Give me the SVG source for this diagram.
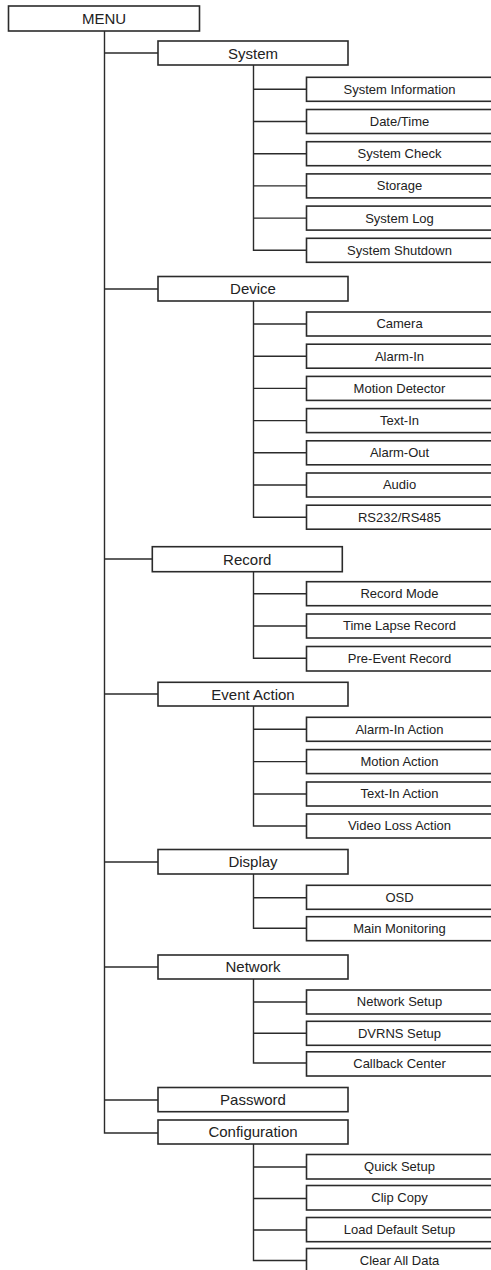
<svg xmlns="http://www.w3.org/2000/svg" width="491" height="1270" viewBox="0 0 491 1270">
<style>
.b{fill:#fff;stroke:#2b2b2b;stroke-width:1.6}
.l{fill:none;stroke:#2b2b2b;stroke-width:1.4}
.t1{font-family:"Liberation Sans",Arial,sans-serif;font-size:15px;fill:#222;text-anchor:middle}
.t2{font-family:"Liberation Sans",Arial,sans-serif;font-size:13px;fill:#222;text-anchor:middle}
</style>
<rect width="491" height="1270" fill="#fff"/>
<g id="connectors">
<path class="l" d="M104.5 31V1133H158"/>
<path class="l" d="M104.5 53H158M104.5 289H158M104.5 559H152.3M104.5 694H158M104.5 862H158M104.5 967H158M104.5 1100H158"/>
<path class="l" d="M253.5 65V250.3H306.5M253.5 89.3H306.5M253.5 121.5H306.5M253.5 153.7H306.5M253.5 185.9H306.5M253.5 218.1H306.5"/>
<path class="l" d="M253.5 301V517.2H306.5M253.5 324H306.5M253.5 356.2H306.5M253.5 388.4H306.5M253.5 420.6H306.5M253.5 452.8H306.5M253.5 485H306.5"/>
<path class="l" d="M253.5 572V658.3H306.5M253.5 593.7H306.5M253.5 626H306.5"/>
<path class="l" d="M253.5 706V826H306.5M253.5 729.3H306.5M253.5 761.6H306.5M253.5 794H306.5"/>
<path class="l" d="M253.5 874V928.3H306.5M253.5 897.7H306.5"/>
<path class="l" d="M253.5 979V1063H306.5M253.5 1002H306.5M253.5 1033.3H306.5"/>
<path class="l" d="M253.5 1144V1260.5H306.5M253.5 1167H306.5M253.5 1198.5H306.5M253.5 1230H306.5"/>
</g>
<g id="menu"><rect class="b" x="8.5" y="6" width="191" height="25"/><text class="t1" x="104" y="24">MENU</text></g>
<g id="system"><rect class="b" x="158" y="41" width="190" height="24"/><text class="t1" x="253" y="58.5">System</text></g>
<g id="system-information"><rect class="b" x="306.5" y="77.3" width="200" height="24"/><text class="t2" x="399.5" y="93.7">System Information</text></g>
<g id="date-time"><rect class="b" x="306.5" y="109.5" width="200" height="24"/><text class="t2" x="399.5" y="125.9">Date/Time</text></g>
<g id="system-check"><rect class="b" x="306.5" y="141.7" width="200" height="24"/><text class="t2" x="399.5" y="158.1">System Check</text></g>
<g id="storage"><rect class="b" x="306.5" y="173.9" width="200" height="24"/><text class="t2" x="399.5" y="190.3">Storage</text></g>
<g id="system-log"><rect class="b" x="306.5" y="206.1" width="200" height="24"/><text class="t2" x="399.5" y="222.5">System Log</text></g>
<g id="system-shutdown"><rect class="b" x="306.5" y="238.3" width="200" height="24"/><text class="t2" x="399.5" y="254.7">System Shutdown</text></g>
<g id="device"><rect class="b" x="158" y="276.5" width="190" height="24.5"/><text class="t1" x="253" y="294">Device</text></g>
<g id="camera"><rect class="b" x="306.5" y="312" width="200" height="24"/><text class="t2" x="399.5" y="328.4">Camera</text></g>
<g id="alarm-in"><rect class="b" x="306.5" y="344.2" width="200" height="24"/><text class="t2" x="399.5" y="360.6">Alarm-In</text></g>
<g id="motion-detector"><rect class="b" x="306.5" y="376.4" width="200" height="24"/><text class="t2" x="399.5" y="392.8">Motion Detector</text></g>
<g id="text-in"><rect class="b" x="306.5" y="408.6" width="200" height="24"/><text class="t2" x="399.5" y="425">Text-In</text></g>
<g id="alarm-out"><rect class="b" x="306.5" y="440.8" width="200" height="24"/><text class="t2" x="399.5" y="457.2">Alarm-Out</text></g>
<g id="audio"><rect class="b" x="306.5" y="473" width="200" height="24"/><text class="t2" x="399.5" y="489.4">Audio</text></g>
<g id="rs232"><rect class="b" x="306.5" y="505.2" width="200" height="24"/><text class="t2" x="399.5" y="521.6">RS232/RS485</text></g>
<g id="record"><rect class="b" x="152.3" y="546.7" width="190" height="25"/><text class="t1" x="247.3" y="564.5">Record</text></g>
<g id="record-mode"><rect class="b" x="306.5" y="581.7" width="200" height="24"/><text class="t2" x="399.5" y="598.1">Record Mode</text></g>
<g id="time-lapse"><rect class="b" x="306.5" y="614" width="200" height="24"/><text class="t2" x="399.5" y="630.4">Time Lapse Record</text></g>
<g id="pre-event"><rect class="b" x="306.5" y="646.5" width="200" height="24.5"/><text class="t2" x="399.5" y="662.9">Pre-Event Record</text></g>
<g id="event-action"><rect class="b" x="158" y="682.3" width="190" height="23.7"/><text class="t1" x="253" y="699.5">Event Action</text></g>
<g id="alarm-in-action"><rect class="b" x="306.5" y="717.3" width="200" height="24"/><text class="t2" x="399.5" y="733.7">Alarm-In Action</text></g>
<g id="motion-action"><rect class="b" x="306.5" y="749.6" width="200" height="24"/><text class="t2" x="399.5" y="766">Motion Action</text></g>
<g id="text-in-action"><rect class="b" x="306.5" y="782" width="200" height="24"/><text class="t2" x="399.5" y="798.4">Text-In Action</text></g>
<g id="video-loss-action"><rect class="b" x="306.5" y="814" width="200" height="24"/><text class="t2" x="399.5" y="830.4">Video Loss Action</text></g>
<g id="display"><rect class="b" x="158" y="849.5" width="190" height="24.5"/><text class="t1" x="253" y="867">Display</text></g>
<g id="osd"><rect class="b" x="306.5" y="885.3" width="200" height="24"/><text class="t2" x="399.5" y="901.9">OSD</text></g>
<g id="main-monitoring"><rect class="b" x="306.5" y="916.7" width="200" height="24"/><text class="t2" x="399.5" y="933">Main Monitoring</text></g>
<g id="network"><rect class="b" x="158" y="955" width="190" height="24"/><text class="t1" x="253" y="972.3">Network</text></g>
<g id="network-setup"><rect class="b" x="306.5" y="990" width="200" height="24"/><text class="t2" x="399.5" y="1006.4">Network Setup</text></g>
<g id="dvrns-setup"><rect class="b" x="306.5" y="1021.3" width="200" height="24"/><text class="t2" x="399.5" y="1037.7">DVRNS Setup</text></g>
<g id="callback-center"><rect class="b" x="306.5" y="1051.8" width="200" height="24.2"/><text class="t2" x="399.5" y="1068.3">Callback Center</text></g>
<g id="password"><rect class="b" x="158" y="1087.5" width="190" height="24.2"/><text class="t1" x="253" y="1105">Password</text></g>
<g id="configuration"><rect class="b" x="158" y="1120" width="190" height="24"/><text class="t1" x="253" y="1137.3">Configuration</text></g>
<g id="quick-setup"><rect class="b" x="306.5" y="1154.5" width="200" height="24.5"/><text class="t2" x="399.5" y="1171.3">Quick Setup</text></g>
<g id="clip-copy"><rect class="b" x="306.5" y="1185.5" width="200" height="24.5"/><text class="t2" x="399.5" y="1202.3">Clip Copy</text></g>
<g id="load-default-setup"><rect class="b" x="306.5" y="1217.5" width="200" height="24.2"/><text class="t2" x="399.5" y="1234.2">Load Default Setup</text></g>
<g id="clear-all-data"><rect class="b" x="306.5" y="1248.5" width="200" height="24"/><text class="t2" x="399.5" y="1265">Clear All Data</text></g>
</svg>
